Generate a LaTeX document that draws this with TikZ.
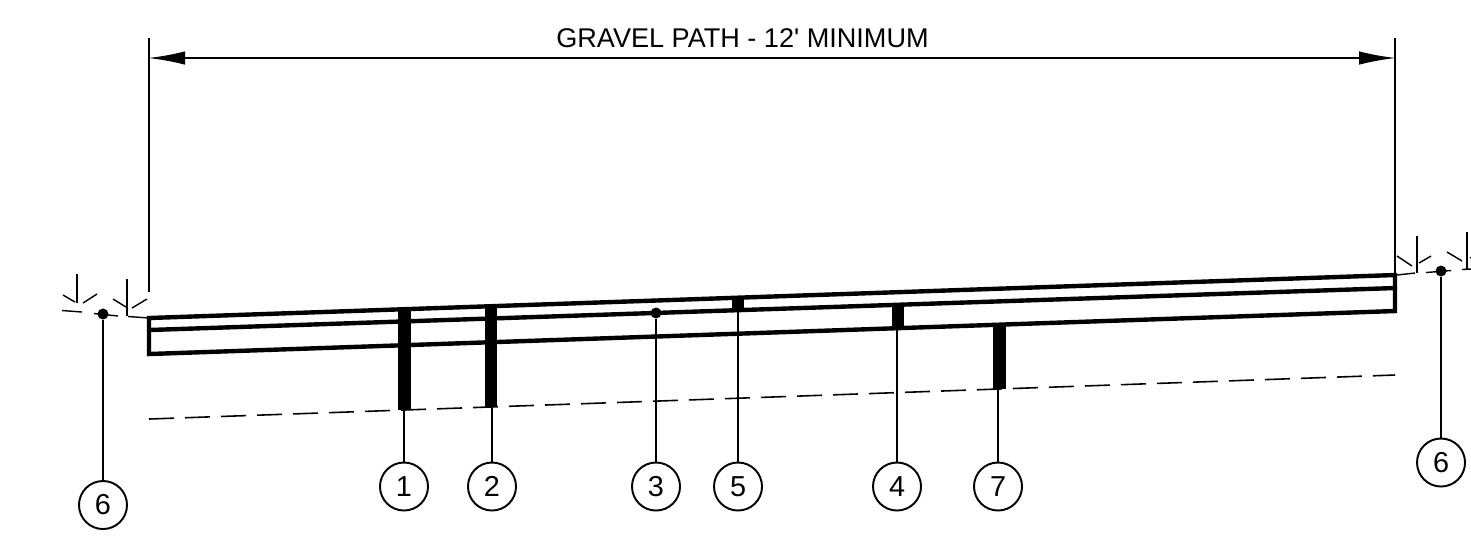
\documentclass[tikz,border=0pt]{standalone}
\usepackage{fontspec}
\setmainfont{Liberation Sans}
\usetikzlibrary{arrows.meta, positioning, calc}
\tikzset{
  slab/.style={line width=1.25pt, line cap=round, line join=miter},
  thin line/.style={line width=0.65pt},
  grass/.style={line width=0.4pt},
  tag/.style={draw, circle, line width=0.55pt, minimum size=0.48cm, inner sep=0pt, font=\fontsize{8.2}{9}\selectfont},
  dot/.style={circle, fill=black, inner sep=0pt, minimum size=0.11cm},
  pile/.style={fill=black}
}

\begin{document}
\begin{tikzpicture}[x=0.01cm, y=-0.01cm]
\useasboundingbox (0,0) rectangle (1471,550);
% dimension
\coordinate (extLt) at (149,38);
\coordinate (extLb) at (149,292);
\coordinate (extRt) at (1395,38);
\coordinate (extRb) at (1395,275);
\coordinate (dimL) at (148,58);
\coordinate (dimR) at (1396,58);
\draw[thin line] (extLt)--(extLb);
\draw[thin line] (extRt)--(extRb);
\draw[thin line, {Latex[length=0.37cm,width=0.135cm]}-{Latex[length=0.37cm,width=0.135cm]}] (dimL)--(dimR);
\node (title) at (742.5,38.5) {\fontsize{7.7}{9}\selectfont GRAVEL PATH - 12\textquotesingle{} MINIMUM};
% path section
\coordinate (topL) at (149,318);
\coordinate (topR) at (1395,275);
\coordinate (midL) at (149,330);
\coordinate (midR) at (1395,288);
\coordinate (botL) at (149,354);
\coordinate (botR) at (1395,311);
\draw[slab] (topL)--(topR)--(botR)--(botL)--cycle;
\draw[slab] (midL)--(midR);
\coordinate (subL) at (149,419);
\coordinate (subR) at (1395,375);
\draw[grass, line width=0.45pt, dash pattern=on 0.25cm off 0.11cm] (subL)--(subR);
% piles
\fill[pile] (398,310) rectangle (411,410);
\fill[pile] (485,307) rectangle (497,407);
\fill[pile] (732,298) rectangle (744,310);
\fill[pile] (892,305) rectangle (904,328);
\fill[pile] (993,324) rectangle (1006,389);
\coordinate (p1) at (404,410);
\coordinate (p2) at (492,407);
\coordinate (p5) at (738,310);
\coordinate (p4) at (897,328);
\coordinate (p7) at (998,389);
\node[dot] (p3) at (656,313) {};
\node[dot] (p6a) at (103,314) {};
\node[dot] (p6b) at (1441,271) {};
% tags
\node[tag] (t1) at (404,486.5) {1};
\node[tag] (t2) at (492,486.5) {2};
\node[tag] (t3) at (656,486.5) {3};
\node[tag] (t5) at (738,486.5) {5};
\node[tag] (t4) at (897,486.5) {4};
\node[tag] (t7) at (998,486.5) {7};
\node[tag] (t6a) at (103,505) {6};
\node[tag] (t6b) at (1441,462.5) {6};
\draw[thin line] (p1)--(t1);
\draw[thin line] (p2)--(t2);
\draw[thin line] (p3)--(t3);
\draw[thin line] (p5)--(t5);
\draw[thin line] (p4)--(t4);
\draw[thin line] (p7)--(t7);
\draw[thin line] (p6a)--(t6a);
\draw[thin line] (p6b)--(t6b);
% grass left
\draw[grass] (62,310.5)--(82,312);
\draw[grass] (94,313.5)--(118,316);
\draw[grass] (128,316.5)--(149,318);
\draw[grass] (77,274)--(77,303);
\draw[grass] (63,295)--(75,302);
\draw[grass] (97,294)--(83,303);
\draw[grass] (127,279)--(127,316);
\draw[grass] (113,299)--(126,307);
\draw[grass] (147,299)--(132,308);
% grass right
\draw[grass] (1397,275)--(1415,273);
\draw[grass] (1426,272.5)--(1451,270.5);
\draw[grass] (1462,269.5)--(1471,269);
\draw[grass] (1417,236)--(1417,273);
\draw[grass] (1397,256)--(1412,266);
\draw[grass] (1431,256)--(1419,263);
\draw[grass] (1467,232)--(1467,269);
\draw[grass] (1447,252)--(1462,261);
\draw[grass] (1480,253)--(1470,258);
\end{tikzpicture}
\end{document}
